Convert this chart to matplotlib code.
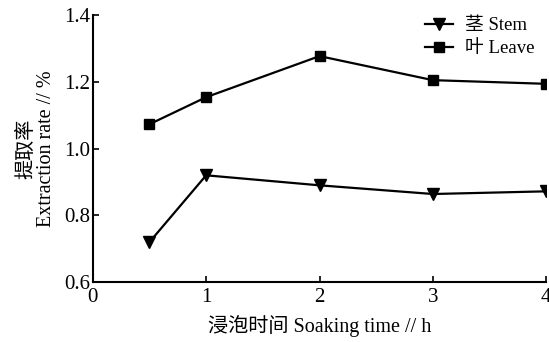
import matplotlib
matplotlib.use("Agg")
import matplotlib.pyplot as plt

plt.rcParams['font.family'] = ['Liberation Serif', 'Noto Sans CJK SC', 'DejaVu Sans']

soak_hours = [0.5, 1, 2, 3, 4]
stem_rate = [0.72, 0.92, 0.89, 0.864, 0.872]
leaf_rate = [1.073, 1.154, 1.277, 1.205, 1.194]
x_ticks = [0, 1, 2, 3, 4]
y_ticks = [0.6, 0.8, 1.0, 1.2, 1.4]

fig = plt.figure(figsize=(5.49, 3.42), dpi=100)
ax = fig.add_axes([0.169, 0.175, 0.826, 0.781])

ax.plot(soak_hours, stem_rate, color='black', lw=1.6, marker='v',
        markersize=8, label='茎 Stem')
ax.plot(soak_hours, leaf_rate, color='black', lw=1.6, marker='s',
        markersize=6.5, label='叶 Leave')

ax.set_xlim(0, 4)
ax.set_ylim(0.6, 1.4)
ax.set_xticks(x_ticks)
ax.set_yticks(y_ticks)
ax.set_xticklabels([str(t) for t in x_ticks])
ax.set_yticklabels([f'{t:.1f}' for t in y_ticks])
ax.tick_params(direction='in', length=4, width=1.2, labelsize=15, pad=2)
ax.tick_params(axis='x', pad=4)

for side in ('top', 'right'):
    ax.spines[side].set_visible(False)
for side in ('left', 'bottom'):
    ax.spines[side].set_linewidth(1.5)

ax.set_xlabel('浸泡时间 Soaking time // h', fontsize=14.5, labelpad=6)
ax.set_ylabel('提取率\nExtraction rate // %', fontsize=14.5, labelpad=6,
              linespacing=1.0)

ax.legend(loc='upper right', frameon=False, fontsize=13.5,
          handlelength=1.5, handletextpad=0.6, labelspacing=0.3,
          borderaxespad=0.0, bbox_to_anchor=(0.99, 1.02))

fig.savefig('out.png', dpi=100)
